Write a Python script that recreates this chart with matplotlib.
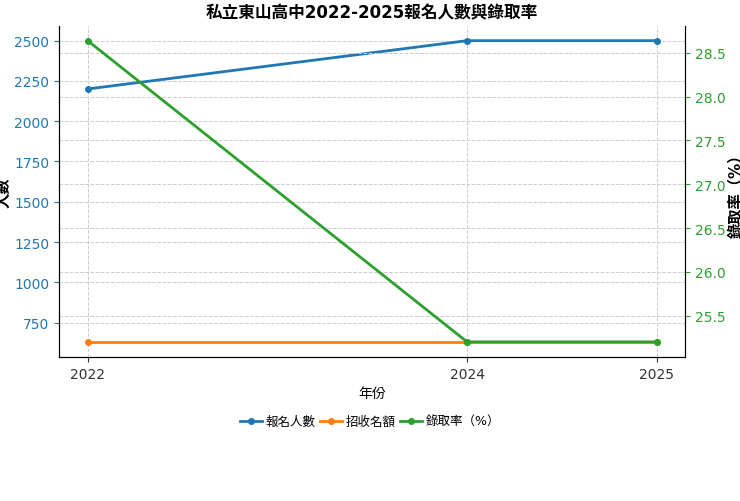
import matplotlib
matplotlib.use("Agg")
import matplotlib.pyplot as plt

plt.rcParams['font.family'] = ['DejaVu Sans', 'Noto Sans CJK TC']

years = [2022, 2024, 2025]
applicants = [2200, 2500, 2500]
admitted = [630, 630, 630]
rate = [28.64, 25.2, 25.2]

fig = plt.figure(figsize=(7.4, 5.02), dpi=100)
ax = fig.add_axes([0.08, 0.287, 0.846, 0.66])
ax2 = ax.twinx()

l1, = ax.plot(years, applicants, '-o', color='#1f77b4', lw=2, ms=4, label='報名人數')
l2, = ax.plot(years, admitted, '-o', color='#ff7f0e', lw=2, ms=4, label='招收名額')
l3, = ax2.plot(years, rate, '-o', color='#2ca02c', lw=2, ms=4, label='錄取率（%）')

ax.set_xticks(years)
ax.set_xticklabels([str(y) for y in years])
ax.grid(True, linestyle='--', color='#cccccc', linewidth=0.7)
ax2.grid(True, linestyle='--', color='#cccccc', linewidth=0.7)
ax.tick_params(axis='y', colors='#1f77b4')
ax.tick_params(axis='x', colors='#333333')
ax2.tick_params(axis='y', colors='#2ca02c')
for s in ['top']:
    ax.spines[s].set_visible(False)
    ax2.spines[s].set_visible(False)
ax.set_ylabel('人數', fontsize=11, fontweight='bold', labelpad=2)
ax2.set_ylabel('錄取率（%）', fontsize=11, fontweight='bold', labelpad=2)
ax.set_xlabel('年份', fontsize=10)
ax.set_title('私立東山高中2022-2025報名人數與錄取率', fontsize=12, fontweight='bold')
fig.legend(handles=[l1, l2, l3], loc='center', bbox_to_anchor=(0.5, 0.158),
           ncol=3, frameon=False, fontsize=9, handlelength=1.8, columnspacing=0.3, handletextpad=0.3)

fig.savefig('out.png', dpi=100)
